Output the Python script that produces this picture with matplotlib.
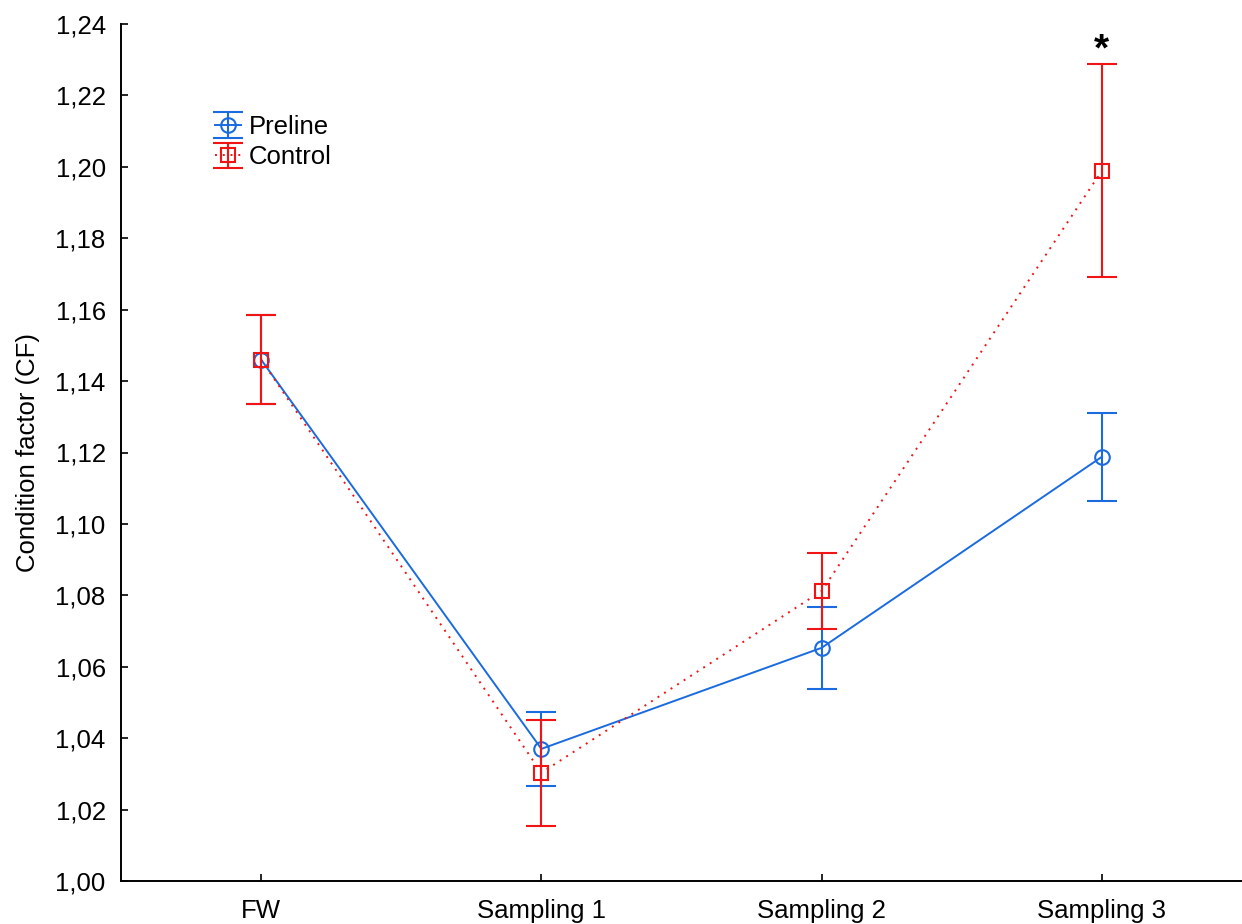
import matplotlib
matplotlib.use("Agg")
import matplotlib.pyplot as plt
from matplotlib.ticker import FixedLocator, FuncFormatter

plt.rcParams['font.family'] = ['Liberation Sans', 'DejaVu Sans']

groups = ["FW", "Sampling 1", "Sampling 2", "Sampling 3"]
preline_mean = [1.146, 1.037, 1.0653, 1.1188]
preline_err = [0.0125, 0.0103, 0.0115, 0.0123]
control_mean = [1.146, 1.0303, 1.0812, 1.1989]
control_err = [0.0125, 0.0149, 0.0106, 0.0298]
star_group = 3
star_value = 1.2347

blue = "#1a6be0"
red = "#f01414"

W, H = 1242, 924
fig = plt.figure(figsize=(W / 100, H / 100), dpi=100)
ax = fig.add_axes([121 / W, 1 - 881 / H, (W - 121) / W, (881 - 24) / H])

x = list(range(len(groups)))

ax.errorbar(x, preline_mean, yerr=preline_err, color=blue, lw=1.4,
            marker='o', ms=10.5, mfc='none', mec=blue, mew=1.5,
            capsize=11, capthick=1.5, elinewidth=1.5, label="Preline", zorder=3)
ax.errorbar(x, control_mean, yerr=control_err, color=red, lw=1.4, ls=(0, (1, 3)),
            marker='s', ms=10, mfc='none', mec=red, mew=1.5,
            capsize=11, capthick=1.5, elinewidth=1.5, label="Control", zorder=4)

# significance mark above the last control error bar
ax.text(star_group, star_value - 0.002, "*", ha='center', va='center', fontsize=28,
        fontweight='bold', color='black')

ax.set_xlim(-0.5, 3.5)
ax.set_ylim(1.00, 1.24)
ax.set_xticks(x)
ax.set_xticklabels(groups)
ax.yaxis.set_major_locator(FixedLocator([1.00 + 0.02 * i for i in range(13)]))
ax.yaxis.set_major_formatter(FuncFormatter(lambda v, p: f"{v:.2f}".replace(".", ",")))
ax.tick_params(axis='both', direction='in', length=5, width=1.2, labelsize=18.5)
ax.tick_params(axis='x', pad=13)
ax.tick_params(axis='y', pad=11)

for side in ('top', 'right'):
    ax.spines[side].set_visible(False)
for side in ('left', 'bottom'):
    ax.spines[side].set_linewidth(1.4)

ax.set_ylabel("Condition factor (CF)", fontsize=18.5, labelpad=11)

leg = ax.legend(loc='upper left', bbox_to_anchor=(215 / W, 1 - 115 / H),
                bbox_transform=fig.transFigure, frameon=False,
                fontsize=18.5, handlelength=1.0, handletextpad=0.3,
                labelspacing=0.25, borderaxespad=0, borderpad=0)

fig.savefig("out.png", dpi=100)
